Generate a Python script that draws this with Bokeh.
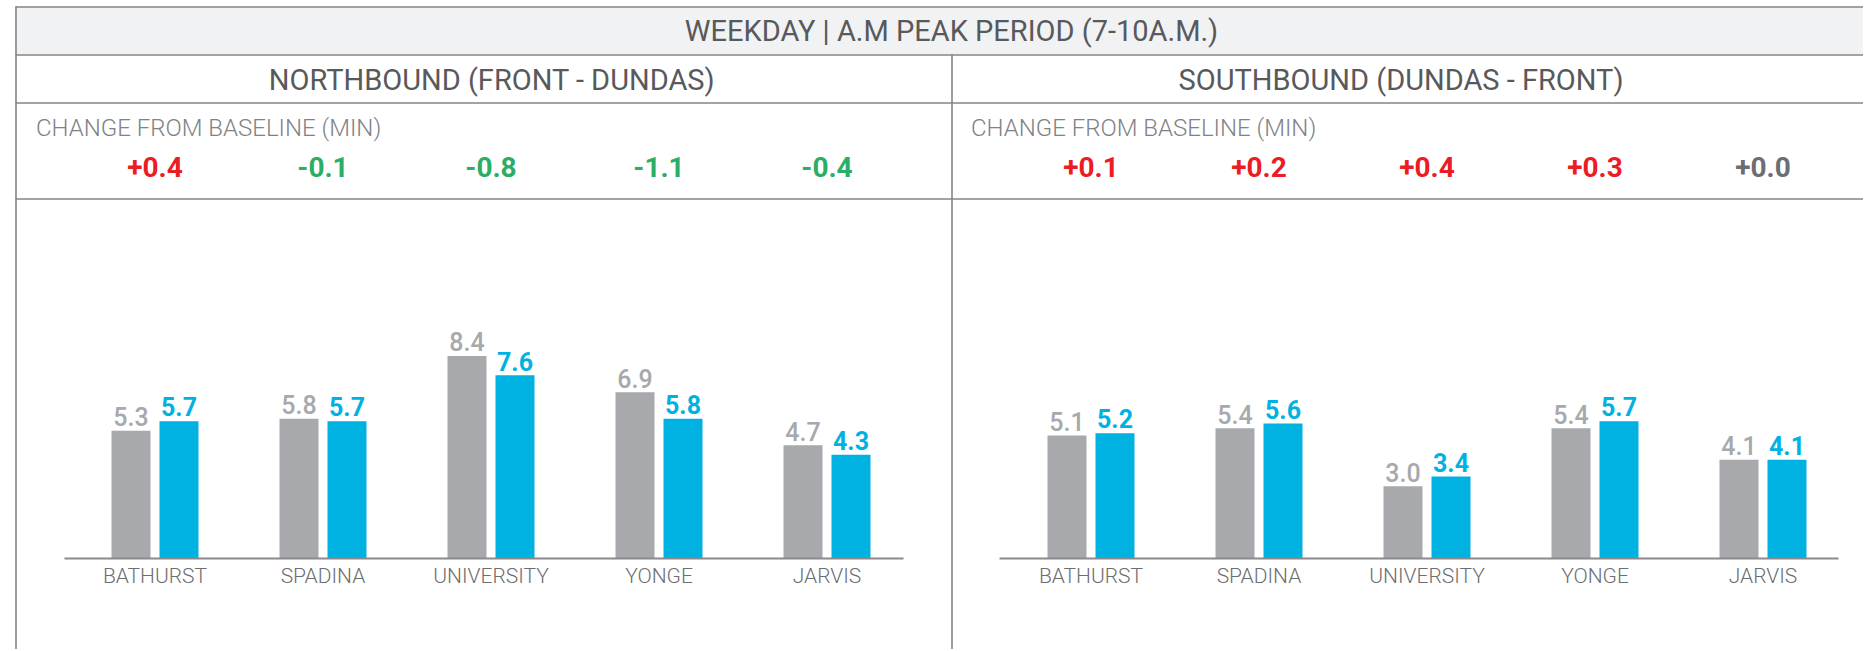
from bokeh.plotting import figure
from bokeh.models import Range1d, ColumnDataSource
from bokeh.transform import dodge
from bokeh.core.properties import value
from bokeh.embed import file_html
from bokeh.resources import INLINE

# ---------------- data ----------------
title = "WEEKDAY | A.M PEAK PERIOD (7-10A.M.)"
panel_titles = ["NORTHBOUND (FRONT - DUNDAS)", "SOUTHBOUND (DUNDAS - FRONT)"]
change_caption = "CHANGE FROM BASELINE (MIN)"
stations = ["BATHURST", "SPADINA", "UNIVERSITY", "YONGE", "JARVIS"]

nb_baseline = [5.3, 5.8, 8.4, 6.9, 4.7]
nb_current = [5.7, 5.7, 7.6, 5.8, 4.3]
sb_baseline = [5.1, 5.4, 3.0, 5.4, 4.1]
sb_current = [5.2, 5.6, 3.4, 5.7, 4.1]

nb_change = ["+0.4", "-0.1", "-0.8", "-1.1", "-0.4"]
sb_change = ["+0.1", "+0.2", "+0.4", "+0.3", "+0.0"]

# ---------------- styling / layout ----------------
GRAY = "#a7a9ac"
BLUE = "#00b2e2"
RED = "#ec1c24"
GREEN = "#2aae66"
NEUTRAL = "#6d6e71"
LINE = "#858585"
TXT_DARK = "#58595b"
TXT_LIGHT = "#808285"
FONT = value("Roboto")
FONT_MED = value("Roboto Medium, Roboto")
FONT_LIGHT = value("Roboto Light, Roboto")

W, H = 1863, 649
GROUP_W = 168                # px per category
LEFT_C0 = 154.5              # pixel centre of first group, left panel
RIGHT_C0 = 1090.5            # pixel centre of first group, right panel
BASE_Y = 558                 # baseline, px from top
PX_PER_MIN = 24.1
BAR_W = 39 / GROUP_W
DODGE = 24 / GROUP_W
LBL_OFF = 14.2 / PX_PER_MIN  # value label centre above bar top

p = figure(width=W, height=H, output_backend="svg", toolbar_location=None,
           x_range=Range1d(-LEFT_C0 / GROUP_W, (W - LEFT_C0) / GROUP_W),
           y_range=Range1d(-(H - BASE_Y) / PX_PER_MIN, BASE_Y / PX_PER_MIN),
           x_axis_location=None, y_axis_location=None,
           min_border=0, outline_line_color=None,
           background_fill_color="white", border_fill_color="white")
p.extra_x_ranges = {"right": Range1d(-RIGHT_C0 / GROUP_W, (W - RIGHT_C0) / GROUP_W),
                    "px": Range1d(0, W)}
p.extra_y_ranges = {"py": Range1d(H, 0)}
p.grid.visible = False

# ---- table frame ----
p.quad(left=[15], right=[W], top=[6], bottom=[54], x_range_name="px", y_range_name="py",
       fill_color="#f1f2f4", line_color=None)
p.segment(x0=[15, 15, 15, 15, 15.5, 951.5], y0=[6.5, 54.5, 102.5, 198.5, 6, 54],
          x1=[W, W, W, W, 15.5, 951.5], y1=[6.5, 54.5, 102.5, 198.5, H, H],
          x_range_name="px", y_range_name="py", line_color=LINE, line_width=1.6)

# ---- header texts ----
p.text(x=[951], y=[30.5], text=[title], x_range_name="px", y_range_name="py",
       text_font=FONT, text_font_size="29px", text_color=TXT_DARK,
       text_align="center", text_baseline="middle")
p.text(x=[491.5, 1400.5], y=[79, 79], text=panel_titles,
       x_range_name="px", y_range_name="py",
       text_font=FONT, text_font_size="29px", text_color=TXT_DARK,
       text_align="center", text_baseline="middle")
p.text(x=[35.5, 970.5], y=[127, 127], text=[change_caption] * 2,
       x_range_name="px", y_range_name="py",
       text_font=FONT_LIGHT, text_font_size="24px", text_color=TXT_LIGHT,
       text_align="left", text_baseline="middle")


def change_color(s):
    v = float(s)
    return RED if v > 0 else (GREEN if v < 0 else NEUTRAL)


idx = list(range(len(stations)))
panels = [
    (None, nb_baseline, nb_current, nb_change, 64, 903),
    ("right", sb_baseline, sb_current, sb_change, 999, 1838),
]
for rname, base, cur, chg, ax0, ax1 in panels:
    xr = p.x_range if rname is None else p.extra_x_ranges[rname]
    kw = {} if rname is None else {"x_range_name": rname}
    src = ColumnDataSource(dict(idx=idx, base=base, cur=cur,
                                base_lbl=[f"{v:.1f}" for v in base],
                                cur_lbl=[f"{v:.1f}" for v in cur],
                                base_y=[v + LBL_OFF for v in base],
                                cur_y=[v + LBL_OFF for v in cur],
                                station=stations, chg=chg,
                                chg_col=[change_color(c) for c in chg]))
    p.vbar(x=dodge("idx", -DODGE, range=xr), top="base", bottom=0, width=BAR_W,
           source=src, fill_color=GRAY, line_color=None, **kw)
    p.vbar(x=dodge("idx", DODGE, range=xr), top="cur", bottom=0, width=BAR_W,
           source=src, fill_color=BLUE, line_color=None, **kw)
    p.text(x=dodge("idx", -DODGE, range=xr), y="base_y", text="base_lbl", source=src,
           text_font=FONT_MED, text_font_size="25px", text_color=GRAY,
           text_align="center", text_baseline="middle", **kw)
    p.text(x=dodge("idx", DODGE, range=xr), y="cur_y", text="cur_lbl", source=src,
           text_font=FONT, text_font_size="25px", text_font_style="bold", text_color=BLUE,
           text_align="center", text_baseline="middle", **kw)
    # category labels
    p.text(x="idx", y=575.5, text="station", source=src, y_range_name="py",
           text_font=FONT_LIGHT, text_font_size="21px", text_color="#6d6e71",
           text_align="center", text_baseline="middle", **kw)
    # change values
    p.text(x="idx", y=166, text="chg", source=src, y_range_name="py",
           text_font=FONT, text_font_size="28px", text_font_style="bold",
           text_color="chg_col", text_align="center", text_baseline="middle", **kw)
    # baseline
    p.segment(x0=[ax0], y0=[0], x1=[ax1], y1=[0], x_range_name="px",
              line_color="#8a8a8a", line_width=2)

open("out.html", "w").write(file_html(p, INLINE))
